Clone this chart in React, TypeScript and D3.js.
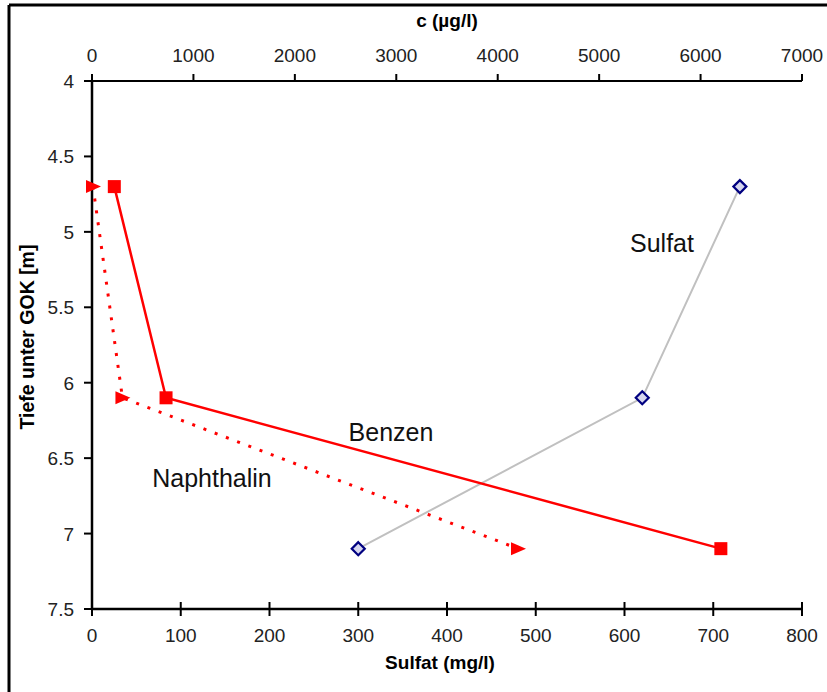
import React from "react";
import * as d3 from "d3";

const depths = [4.7, 6.1, 7.1];
const sulfat = [730, 620, 300];
const benzen = [220, 730, 6200];
const naphthalin = [10, 300, 4200];
const topTicks = [0, 1000, 2000, 3000, 4000, 5000, 6000, 7000];
const bottomTicks = [0, 100, 200, 300, 400, 500, 600, 700, 800];
const depthTicks = [4, 4.5, 5, 5.5, 6, 6.5, 7, 7.5];

const W = 827, H = 692;
const L = 92, R = 802, T = 81, B = 609;
const FONT = "'Liberation Sans', Arial, sans-serif";

export default function App() {
  const xS = d3.scaleLinear().domain([0, 800]).range([L, R]);
  const xC = d3.scaleLinear().domain([0, 7000]).range([L, R]);
  const y = d3.scaleLinear().domain([4, 7.5]).range([T, B]);

  const sulPts = depths.map((d, i) => [xS(sulfat[i]), y(d)] as [number, number]);
  const benPts = depths.map((d, i) => [xC(benzen[i]), y(d)] as [number, number]);
  const napPts = depths.map((d, i) => [xC(naphthalin[i]), y(d)] as [number, number]);
  const line = d3.line();

  return (
    <svg width={W} height={H} style={{ position: "absolute", left: 0, top: 0, background: "#fff" }} fontFamily={FONT}>
      {/* frame */}
      <line x1={9} y1={5} x2={827} y2={5} stroke="#000" strokeWidth={3} />
      <line x1={9} y1={5} x2={9} y2={692} stroke="#000" strokeWidth={3} />

      {/* axes */}
      <line x1={L} y1={T} x2={R} y2={T} stroke="#000" strokeWidth={2} />
      <line x1={L} y1={B} x2={R} y2={B} stroke="#000" strokeWidth={2.5} />
      <line x1={L} y1={T} x2={L} y2={B} stroke="#000" strokeWidth={2.5} />

      {topTicks.map((t) => (
        <g key={"tt" + t}>
          <line x1={xC(t)} x2={xC(t)} y1={T} y2={T - 7} stroke="#000" strokeWidth={2} />
          <text x={xC(t)} y={T - 19} textAnchor="middle" fontSize={19} fill="#222">{t}</text>
        </g>
      ))}
      {bottomTicks.map((t) => (
        <g key={"bt" + t}>
          <line x1={xS(t)} x2={xS(t)} y1={B - 7} y2={B + 7} stroke="#000" strokeWidth={2} />
          <text x={xS(t)} y={B + 33} textAnchor="middle" fontSize={19} fill="#222">{t}</text>
        </g>
      ))}
      {depthTicks.map((t) => (
        <g key={"dt" + t}>
          <line x1={L - 8} x2={L} y1={y(t)} y2={y(t)} stroke="#000" strokeWidth={2} />
          <text x={L - 18} y={y(t) + 7} textAnchor="end" fontSize={19} fill="#222">{t}</text>
        </g>
      ))}

      {/* axis titles */}
      <text x={447} y={27} textAnchor="middle" fontSize={19} fontWeight="bold">c (µg/l)</text>
      <text x={440} y={669} textAnchor="middle" fontSize={19} fontWeight="bold">Sulfat (mg/l)</text>
      <text transform={`translate(34,337) rotate(-90)`} textAnchor="middle" fontSize={19.5} fontWeight="bold">Tiefe unter GOK [m]</text>

      {/* Sulfat */}
      <path d={line(sulPts) || ""} fill="none" stroke="#c0c0c0" strokeWidth={2} />
      {sulPts.map(([px, py], i) => (
        <path key={"s" + i} d={`M${px},${py - 6.5}L${px + 6.5},${py}L${px},${py + 6.5}L${px - 6.5},${py}Z`} fill="#d6d6ee" stroke="#000080" strokeWidth={2.2} />
      ))}

      {/* Naphthalin */}
      <path d={line(napPts) || ""} fill="none" stroke="#ff0000" strokeWidth={3} strokeDasharray="3,9" />
      {napPts.map(([px, py], i) => (
        <path key={"n" + i} d={`M${px - 7},${py - 6.5}L${px + 8},${py}L${px - 7},${py + 6.5}Z`} fill="#ff0000" />
      ))}

      {/* Benzen */}
      <path d={line(benPts) || ""} fill="none" stroke="#ff0000" strokeWidth={2.5} />
      {benPts.map(([px, py], i) => (
        <rect key={"b" + i} x={px - 6.5} y={py - 6.5} width={13} height={13} fill="#ff0000" />
      ))}

      {/* labels */}
      <text x={662} y={252} textAnchor="middle" fontSize={25} fill="#111">Sulfat</text>
      <text x={391} y={441} textAnchor="middle" fontSize={25} fill="#111">Benzen</text>
      <text x={212} y={487} textAnchor="middle" fontSize={25} fill="#111">Naphthalin</text>
    </svg>
  );
}
